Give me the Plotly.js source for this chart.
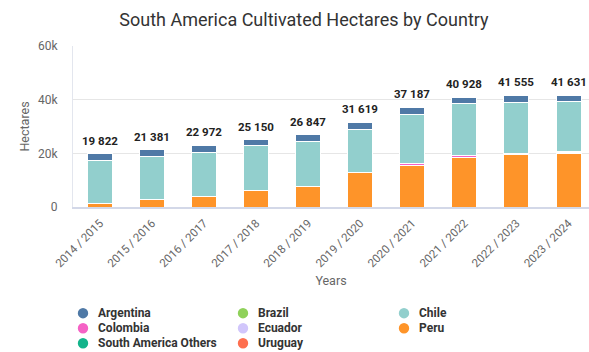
<!DOCTYPE html>
<html>
<head>
<meta charset="utf-8">
<script src="https://cdn.plot.ly/plotly-3.0.1.min.js"></script>
<style>html,body{margin:0;padding:0;background:#fff;}#chart{width:589px;height:352px;}</style>
</head>
<body>
<div id="chart"></div>
<script>
var years = ['2014 / 2015','2015 / 2016','2016 / 2017','2017 / 2018','2018 / 2019','2019 / 2020','2020 / 2021','2021 / 2022','2022 / 2023','2023 / 2024'];
var argentina = [2400, 2400, 2700, 2400, 2600, 2700, 2600, 2500, 2500, 2400];
var brazil    = [0, 0, 0, 0, 0, 0, 0, 0, 0, 0];
var chile     = [16100, 16200, 16300, 16450, 16450, 16100, 18500, 19300, 19100, 18500];
var colombia  = [0, 0, 0, 0, 0, 0, 500, 700, 400, 600];
var ecuador   = [0, 0, 0, 0, 0, 0, 50, 50, 80, 50];
var peru      = [1300, 2800, 4000, 6300, 7800, 12800, 15500, 18400, 19500, 20100];
var saOthers  = [0, 0, 0, 0, 0, 0, 0, 0, 0, 0];
var uruguay   = [0, 0, 0, 0, 0, 0, 0, 0, 0, 0];
var totals    = [19822, 21381, 22972, 25150, 26847, 31619, 37187, 40928, 41555, 41631];
var seriesNames = ['Argentina','Brazil','Chile','Colombia','Ecuador','Peru','South America Others','Uruguay'];
var seriesColors = ['#4f79a6','#8fd15a','#92cfcd','#f562c5','#d1c6fb','#fe9429','#14b48b','#fe6f4f'];
var seriesData = [argentina, brazil, chile, colombia, ecuador, peru, saOthers, uruguay];

var traces = [];
// stacked bars: reverse alphabetical from the bottom
for (var k = seriesNames.length - 1; k >= 0; k--) {
  traces.push({
    type:'bar', x:years, y:seriesData[k], name:seriesNames[k], showlegend:false,
    width:0.48, marker:{color:seriesColors[k], line:{color:'#ffffff', width:1}},
    hovertemplate:'%{x}<br>'+seriesNames[k]+': %{y}<extra></extra>'
  });
}

// plot area geometry (pixels) used to place the legend rows under the plot
var W = 589, H = 352, ML = 73, MR = 0, MT = 46, MB = 145.3;
var PW = W - ML - MR, PH = H - MT - MB;
function px2x(px){ return (px - ML) / PW; }
function px2y(py){ return (H - MB - py) / PH; }

function fmt(v){ return String(v).replace(/\B(?=(\d{3})+(?!\d))/g,' '); }
var annotations = totals.map(function(v, i){
  return {x:years[i], y:v, xref:'x', yref:'y', text:fmt(v), showarrow:false,
          yanchor:'bottom', yshift:4,
          font:{family:'Roboto', size:11.5, color:'#222', weight:'bold'}};
});

// legend: 3 columns, row-major, round markers
var shapes = [];
var colX = [83, 243, 404], rowY = [312.7, 327.7, 342.7];
seriesNames.forEach(function(name, i){
  var cx = colX[i % 3], cy = rowY[Math.floor(i / 3)];
  shapes.push({type:'circle', xref:'paper', yref:'paper', xsizemode:'pixel', ysizemode:'pixel',
    xanchor:px2x(cx), yanchor:px2y(cy), x0:-5.2, x1:5.2, y0:-5.2, y1:5.2,
    fillcolor:seriesColors[i], line:{width:0}, layer:'above'});
  annotations.push({xref:'paper', yref:'paper', x:px2x(cx + 13), y:px2y(cy), xanchor:'left', yanchor:'middle',
    text:name, showarrow:false, font:{family:'Roboto', size:12, color:'#333', weight:'bold'}});
});

var layout = {
  width:W, height:H,
  margin:{l:ML, r:MR, t:MT, b:MB, pad:0},
  paper_bgcolor:'#fff', plot_bgcolor:'#fff',
  font:{family:'Roboto', color:'#666', size:12},
  barmode:'stack',
  showlegend:false,
  annotations:annotations,
  shapes:shapes,
  title:{text:'South America Cultivated Hectares by Country', x:0.516, xanchor:'center', y:0.943, yanchor:'middle',
         font:{family:'Roboto', size:18, color:'#333'}},
  xaxis:{
    type:'category', range:[-0.519, 9.393], tickangle:-45,
    tickfont:{size:11.5, color:'#666'},
    showgrid:false, showline:true, linecolor:'#d3d8e8', linewidth:2,
    ticks:'', ticklabelstandoff:3,
    title:{text:'Years', font:{size:12.5, color:'#666'}, standoff:7}
  },
  yaxis:{
    range:[0, 60000], dtick:20000, tickformat:'~s',
    tickfont:{size:12, color:'#666'},
    gridcolor:'#e6e6e6', gridwidth:1, zeroline:false,
    showline:true, linecolor:'#e3e6ee', linewidth:1,
    ticks:'', ticklabelstandoff:12,
    title:{text:'Hectares', font:{size:12.5, color:'#666'}, standoff:5}
  }
};

Plotly.newPlot('chart', traces, layout, {displayModeBar:false, staticPlot:true});
</script>
</body>
</html>
